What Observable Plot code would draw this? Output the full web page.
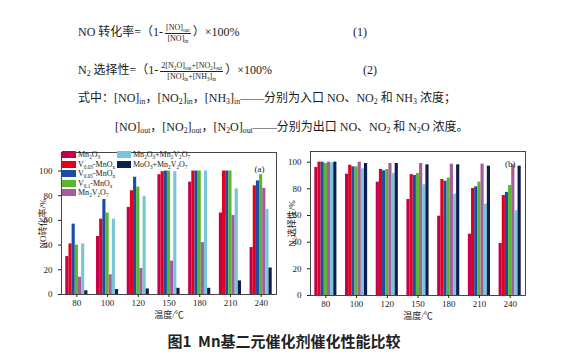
<!DOCTYPE html>
<html>
<head>
<meta charset="utf-8">
<script src="https://cdn.jsdelivr.net/npm/d3@7"></script>
<script src="https://cdn.jsdelivr.net/npm/@observablehq/plot@0.6"></script>
<style>
  html, body { margin: 0; padding: 0; background: #fff; }
  #page { position: relative; width: 568px; height: 360px; overflow: hidden; background: #fff;
          font-family: "Liberation Serif", "Noto Sans CJK SC", serif; color: #1a1a1a; }
  .line { position: absolute; display: block; font-size: 12px; white-space: nowrap; line-height: 24px; height: 24px; }
  .line sub, .leg sub { font-size: 0.65em; vertical-align: -0.3em; line-height: 0; }
  .frac { display: inline-flex; flex-direction: column; align-items: center; font-size: 8px; margin: 0 2px; line-height: 10px; vertical-align: middle; }
  .frac .num { border-bottom: 0.8px solid #222; padding: 0 1px; }
  .eqno { position: absolute; font-size: 12px; }
  .chart { position: absolute; }
  #legend { position: absolute; left: 62px; top: 150px; font-size: 8px; }
  .leg { position: absolute; white-space: nowrap; height: 9px; line-height: 9px; }
  .sw { display: inline-block; width: 14px; height: 7px; margin-right: 2px; vertical-align: -1px; }
  #caption { position: absolute; left: 0; width: 568px; top: 330px; text-align: center; font-size: 15px; font-weight: bold;
             font-family: "Noto Sans CJK SC", sans-serif; color: #222; }
</style>
</head>
<body>
<div id="page">
  <div class="line" style="left:78px; top:20px;">NO 转化率=（1-<span class="frac"><span class="num">[NO]<sub>out</sub></span><span>[NO]<sub>in</sub></span></span>）×100%</div>
  <div class="eqno" style="left:353px; top:25px;">(1)</div>
  <div class="line" style="left:78px; top:58px;">N<sub>2</sub> 选择性=（1-<span class="frac"><span class="num">2[N<sub>2</sub>O]<sub>out</sub>+[NO<sub>2</sub>]<sub>out</sub></span><span>[NO]<sub>in</sub>+[NH<sub>3</sub>]<sub>in</sub></span></span>）×100%</div>
  <div class="eqno" style="left:363px; top:63px;">(2)</div>
  <div class="line" style="left:78px; top:86px;">式中：[NO]<sub>in</sub>，[NO<sub>2</sub>]<sub>in</sub>，[NH<sub>3</sub>]<sub>in</sub>——分别为入口 NO、NO<sub>2</sub> 和 NH<sub>3</sub> 浓度；</div>
  <div class="line" style="left:115px; top:115px;">[NO]<sub>out</sub>，[NO<sub>2</sub>]<sub>out</sub>，[N<sub>2</sub>O]<sub>out</sub>——分别为出口 NO、NO<sub>2</sub> 和 N<sub>2</sub>O 浓度。</div>
  <div id="chartA" class="chart" style="left:0; top:140px;"></div>
  <div id="chartB" class="chart" style="left:280px; top:140px;"></div>
  <div id="legend"></div>
  <div id="caption">图1&nbsp; Mn基二元催化剂催化性能比较</div>
</div>
<script>
// categories
const temps = ["80", "100", "120", "150", "180", "210", "240"];
const seriesNames = ["Mn2O3", "V0.03-MnOx", "V0.05-MnOx", "V0.1-MnOx", "Mn2V2O7", "Mn2O3+Mn2V2O7", "MoO3+Mn2V2O7"];
const seriesLabels = [
  "Mn<sub>2</sub>O<sub>3</sub>",
  "V<sub>0.03</sub>-MnO<sub>x</sub>",
  "V<sub>0.05</sub>-MnO<sub>x</sub>",
  "V<sub>0.1</sub>-MnO<sub>x</sub>",
  "Mn<sub>2</sub>V<sub>2</sub>O<sub>7</sub>",
  "Mn<sub>2</sub>O<sub>3</sub>+Mn<sub>2</sub>V<sub>2</sub>O<sub>7</sub>",
  "MoO<sub>3</sub>+Mn<sub>2</sub>V<sub>2</sub>O<sub>7</sub>"
];
const seriesColors = ["#c2004e", "#e3001b", "#1c4da6", "#5cb531", "#a65c9c", "#79c6dc", "#0f1c4e"];

// (a) NO conversion, %
const convMn2O3   = [30.7, 47, 70.5, 97, 91, 66, 38];
const convV003    = [41, 61, 84, 99.5, 100, 100, 88];
const convV005    = [57, 77, 95, 100, 100, 100, 92];
const convV01     = [40, 66, 87, 100, 100, 100, 97];
const convMn2V2O7 = [14, 16, 21, 27, 42, 64, 86];
const convMix     = [41, 61, 79.5, 99.5, 100, 85.5, 69];
const convMoO3    = [3, 4, 4.5, 5, 5, 11, 21.5];

// (b) N2 selectivity, %
const selMn2O3   = [96, 91, 85, 72, 59.5, 46, 39];
const selV003    = [100, 97.7, 94.5, 90.7, 87, 80.3, 75];
const selV005    = [100, 96.5, 93.5, 90, 85.7, 81.5, 77.3];
const selV01     = [99, 96.5, 94.5, 91.5, 88, 85, 82.5];
const selMn2V2O7 = [100, 100, 99, 99, 98.5, 98.5, 98];
const selMix     = [99.5, 95, 91.5, 83, 76, 68.5, 63.5];
const selMoO3    = [100, 99, 99, 98, 98, 97, 97];

const convSeries = [convMn2O3, convV003, convV005, convV01, convMn2V2O7, convMix, convMoO3];
const selSeries  = [selMn2O3, selV003, selV005, selV01, selMn2V2O7, selMix, selMoO3];

const groupWidth = 0.72;
function toRows(seriesArr) {
  const w = groupWidth / seriesNames.length;
  const rows = [];
  seriesArr.forEach((vals, s) => {
    vals.forEach((v, g) => {
      const x1 = g - groupWidth / 2 + s * w;
      rows.push({series: seriesNames[s], g, x1, x2: x1 + w, v});
    });
  });
  return rows;
}

function makeChart(seriesArr, yMax, yLabel, tag, width, ml, mr, mt, mb, tagDx, tagDy) {
  return Plot.plot({
    width, height: 182,
    marginLeft: ml, marginRight: mr, marginTop: mt, marginBottom: mb,
    style: {fontFamily: "'Liberation Serif', 'Noto Sans CJK SC', serif", fontSize: "9px", background: "transparent", color: "#222", overflow: "visible"},
    x: {domain: [-0.5, 6.5]},
    y: {domain: [0, yMax]},
    color: {domain: seriesNames, range: seriesColors},
    marks: [
      Plot.rectY(toRows(seriesArr), {x1: "x1", x2: "x2", y: "v", fill: "series"}),
      Plot.frame({stroke: "#333", strokeWidth: 0.9}),
      Plot.axisX({ticks: d3.range(temps.length), tickFormat: i => temps[i], tickSize: 3, tickPadding: 2, label: null}),
      Plot.text(["温度/℃"], {text: d => d, frameAnchor: "bottom", lineAnchor: "top", dy: 17, fontSize: 9}),
      Plot.axisY({ticks: d3.range(0, 101, 20), tickSize: 3,
                  label: yLabel, labelAnchor: "center", labelOffset: 22, labelArrow: "none"}),
      Plot.text([tag], {text: d => d, frameAnchor: "top-right", dx: tagDx, dy: tagDy, fontSize: 9})
    ]
  });
}

document.getElementById("chartA").append(
  makeChart(convSeries, 115, "NO转化率/%", "(a)", 285, 61, 9, 12, 28, -12, 13));
document.getElementById("chartB").append(
  makeChart(selSeries, 108, "N₂选择性/%", "(b)", 288, 30, 43, 11, 27, -10, 9));

// legend for (a)
const legend = document.getElementById("legend");
seriesNames.forEach((name, i) => {
  const col = i < 5 ? 0 : 1;
  const row = i < 5 ? i : i - 5;
  const item = document.createElement("div");
  item.className = "leg";
  item.style.left = (col * 55) + "px";
  item.style.top = (row * 9.6) + "px";
  item.innerHTML = `<span class="sw" style="background:${seriesColors[i]}"></span><span>${seriesLabels[i]}</span>`;
  legend.append(item);
});
</script>
</body>
</html>
